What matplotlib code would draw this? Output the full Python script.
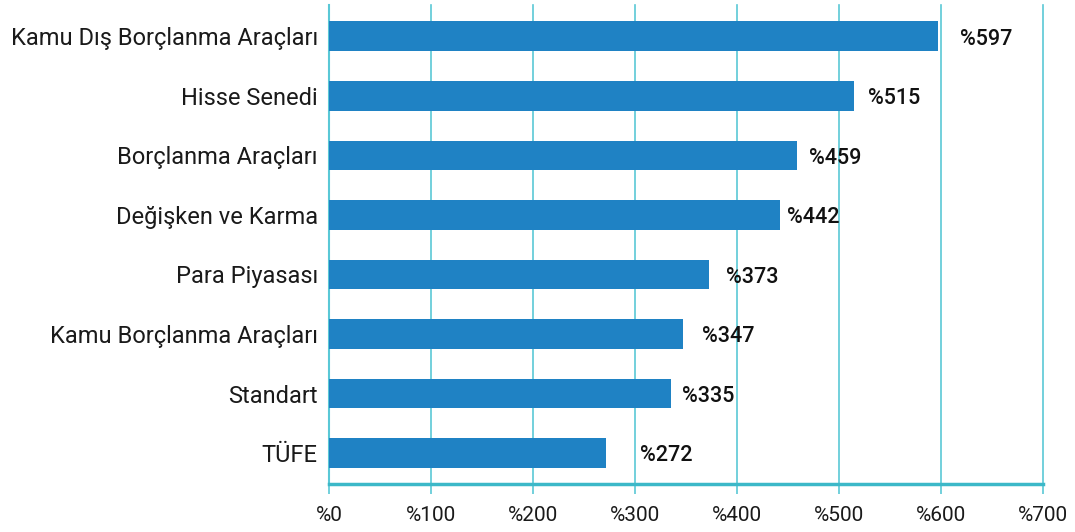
import matplotlib.pyplot as plt

plt.rcParams['font.family'] = ['Roboto', 'DejaVu Sans']

# Data, top to bottom
categories = ['Kamu Dış Borçlanma Araçları', 'Hisse Senedi', 'Borçlanma Araçları',
              'Değişken ve Karma', 'Para Piyasası', 'Kamu Borçlanma Araçları',
              'Standart', 'TÜFE']
values = [597, 515, 459, 442, 373, 347, 335, 272]
# gap between bar end and its value label (points), as in the original
label_pad = [16, 10, 9, 5, 12, 14, 8, 24]
x_ticks = [0, 100, 200, 300, 400, 500, 600, 700]

bar_color = '#1f82c4'
grid_color = '#5ac8d6'

fig = plt.figure(figsize=(10.75, 5.32), dpi=100)
ax = fig.add_axes([0.306, 0.090, 0.664, 0.900])

pos = list(range(len(categories)))
ax.barh(pos, values, height=0.5, color=bar_color, zorder=3)

for p, v, pad in zip(pos, values, label_pad):
    ax.annotate(f'%{v}', (v, p), xytext=(pad, -2), textcoords='offset points',
                ha='left', va='center', fontsize=15.5, fontweight='medium',
                color='#111111')

ax.set_xlim(0, 700)
ax.set_ylim(len(categories) - 0.48, -0.52)
ax.set_yticks(pos)
ax.set_yticklabels(categories, fontsize=17, color='#1a1a1a')
ax.set_xticks(x_ticks)
ax.set_xticklabels([f'%{t}' for t in x_ticks], fontsize=15, color='#1a1a1a')

ax.grid(axis='x', color=grid_color, linewidth=1.2, zorder=0)
for line in ax.get_xgridlines():
    line.set_clip_on(False)
ax.set_axisbelow(True)

for s in ['top', 'right']:
    ax.spines[s].set_visible(False)
ax.spines['left'].set_color(grid_color)
ax.spines['left'].set_linewidth(1.5)
ax.spines['bottom'].set_color('#3cb8c8')
ax.spines['bottom'].set_linewidth(2.5)

ax.tick_params(axis='y', length=0, pad=8)
ax.tick_params(axis='x', length=7, width=1.2, color=grid_color, pad=9)

fig.savefig('out.png', dpi=100)
